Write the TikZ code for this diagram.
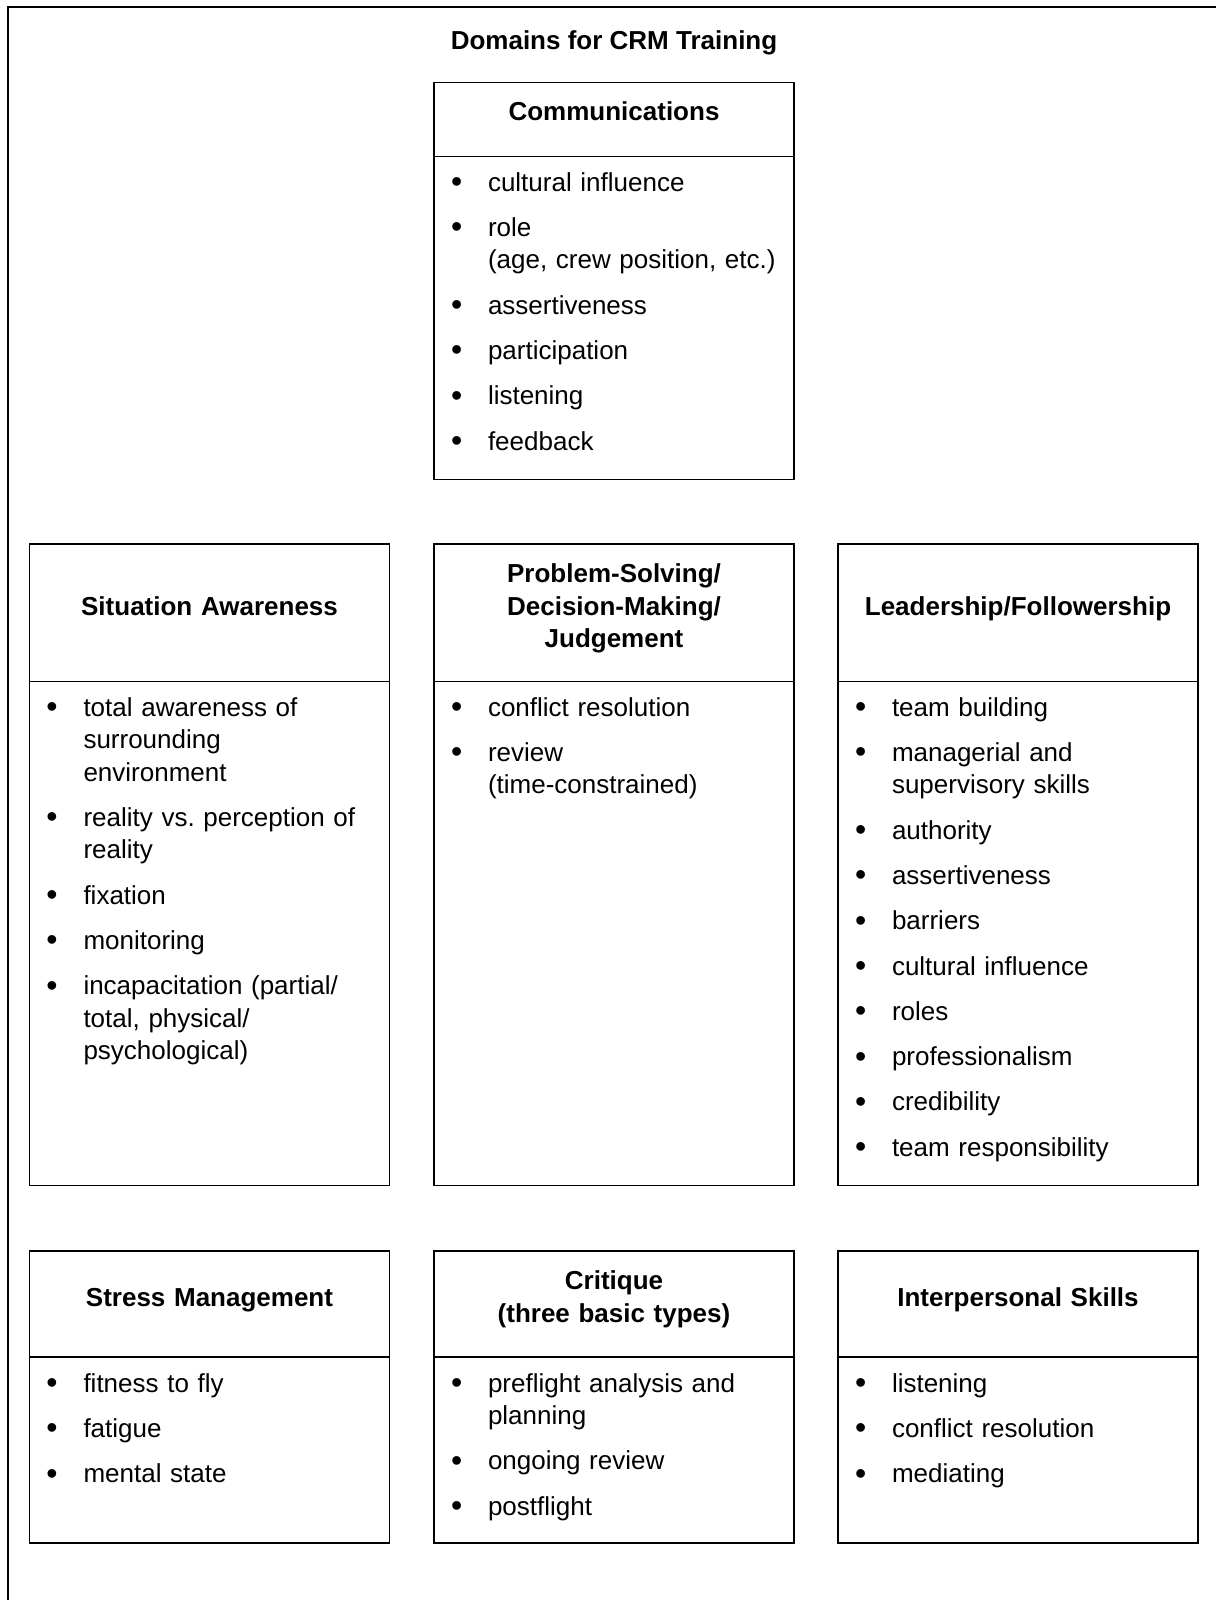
\documentclass[tikz,border=0pt]{standalone}
\usepackage{fontspec}
\setmainfont{Liberation Sans}
\usepackage{tikz}
\definecolor{linecolor}{gray}{0}
% One bullet point; use \newline inside for a second line.
\newcommand\bitem[1]{\leftskip=54pt\parskip=12.8pt\noindent\llap{\raisebox{-1.5pt}{\fontsize{32}{0}\selectfont\textbullet}\hspace{25.8pt}}#1\par}

\begin{document}
\frenchspacing
\begin{tikzpicture}[
	x=1pt, y=-1pt,
	crmbox/.style={draw=linecolor, line width=1.6pt, minimum width=360pt, inner sep=0pt},
	boxrule/.style={draw=linecolor, line width=1.6pt},
	frameline/.style={draw=linecolor, line width=2pt},
	heading/.style={font=\fontsize{26}{32.6}\selectfont\bfseries, text width=340pt, align=center, inner sep=0pt},
	itemlist/.style={font=\fontsize{26}{32.5}\selectfont, text width=345pt, align=left, inner sep=0pt},
	every node/.style={outer sep=0pt},
]
\useasboundingbox (0,0) rectangle (1216,1600);
% Input 1: left edge. Input 2: top, header rule and bottom of the box.
\def\domainbox#1[#2,#3,#4](#5){
	\node[crmbox, minimum height=#4-#2, anchor=north west] at (#1,#2) (#5) {};
	\coordinate (#5rule) at (#1,#3);
	\draw[boxrule] (#5rule) -- (#5rule -| #5.east);
}
	\draw[frameline] (8,1600) -- (8,7) -- (1216,7);
	\node[font=\fontsize{26}{32.6}\selectfont\bfseries, anchor=base] (title) at (614,50) {Domains for CRM Training};

	\domainbox{434}[82.5,156.5,479.5](comm)
	\node[heading, anchor=base] (commhead) at (614,120.8) {Communications};
	\node[itemlist, anchor=base west] (commlist) at (434,191) {%
		\bitem{cultural influence}
		\bitem{role\newline (age, crew position, etc.)}
		\bitem{assertiveness}
		\bitem{participation}
		\bitem{listening}
		\bitem{feedback}};

	\domainbox{29.5}[544,681.5,1185.4](sitaw)
	\node[heading, anchor=base] (sitawhead) at (209.5,615) {Situation Awareness};
	\node[itemlist, anchor=base west] (sitawlist) at (29.5,716) {%
		\bitem{total awareness of\newline surrounding\newline environment}
		\bitem{reality vs. perception of\newline reality}
		\bitem{fixation}
		\bitem{monitoring}
		\bitem{incapacitation (partial/\newline total, physical/\newline psychological)}};

	\domainbox{434}[544,681.5,1185.4](probsolve)
	\node[heading, anchor=base] (probsolvehead) at (614,582.4) {Problem-Solving/\\Decision-Making/\\Judgement};
	\node[itemlist, anchor=base west] (probsolvelist) at (434,716) {%
		\bitem{conflict resolution}
		\bitem{review\newline (time-constrained)}};

	\domainbox{838}[544,681.5,1185.4](leader)
	\node[heading, anchor=base] (leaderhead) at (1018,615) {Leadership/Followership};
	\node[itemlist, anchor=base west] (leaderlist) at (838,716) {%
		\bitem{team building}
		\bitem{managerial and\newline supervisory skills}
		\bitem{authority}
		\bitem{assertiveness}
		\bitem{barriers}
		\bitem{cultural influence}
		\bitem{roles}
		\bitem{professionalism}
		\bitem{credibility}
		\bitem{team responsibility}};

	\domainbox{29.5}[1251,1357,1543](stress)
	\node[heading, anchor=base] (stresshead) at (209.5,1306) {Stress Management};
	\node[itemlist, anchor=base west] (stresslist) at (29.5,1392) {%
		\bitem{fitness to fly}
		\bitem{fatigue}
		\bitem{mental state}};

	\domainbox{434}[1251,1357,1543](critique)
	\node[heading, anchor=base] (critiquehead) at (614,1289.7) {Critique\\(three basic types)};
	\node[itemlist, anchor=base west] (critiquelist) at (434,1392) {%
		\bitem{preflight analysis and\newline planning}
		\bitem{ongoing review}
		\bitem{postflight}};

	\domainbox{838}[1251,1357,1543](interpers)
	\node[heading, anchor=base] (interpershead) at (1018,1306) {Interpersonal Skills};
	\node[itemlist, anchor=base west] (interperslist) at (838,1392) {%
		\bitem{listening}
		\bitem{conflict resolution}
		\bitem{mediating}};
\end{tikzpicture}
\end{document}
